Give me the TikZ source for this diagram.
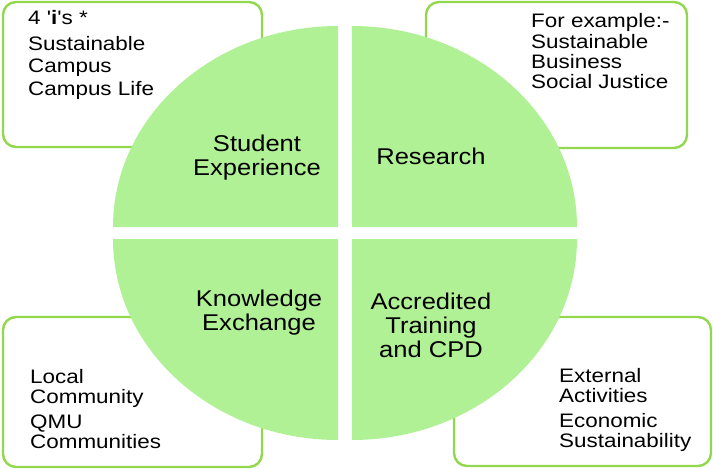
\documentclass[tikz,border=0pt]{standalone}
\usepackage{fontspec}
\setmainfont{Liberation Sans}
\newfontfamily\outerfont[FakeStretch=1.15]{Liberation Sans}
\newfontfamily\innerfont[FakeStretch=1.12]{Liberation Sans}
\definecolor{quadgreen}{RGB}{177,241,150}
\definecolor{boxgreen}{RGB}{146,216,78}
\tikzset{
  infobox/.style={draw=boxgreen, line width=2.4pt, fill=white, rounded corners=13pt},
  quad/.style={fill=quadgreen, draw=none},
  outertext/.style={anchor=base west, inner sep=0pt, font=\outerfont\fontsize{19.5}{22}\selectfont},
  innertext/.style={anchor=base, inner sep=0pt, font=\innerfont\fontsize{22.8}{24}\selectfont},
}
\begin{document}
\begin{tikzpicture}[x=1pt,y=-1pt]
\useasboundingbox (0,0) rectangle (713,469);
% boxes
\draw[infobox] (3,2) rectangle (262,147);
\draw[infobox] (426,2) rectangle (687,148);
\draw[infobox] (3,317) rectangle (262,467);
\draw[infobox] (454,317) rectangle (711,466);
% quadrants
\fill[quad] (338,227) -- (113,227) arc[start angle=180, end angle=270, x radius=225, y radius=201] -- cycle;
\fill[quad] (352,227) -- (352,26) arc[start angle=270, end angle=360, x radius=225, y radius=201] -- cycle;
\fill[quad] (338,239) -- (338,440) arc[start angle=90, end angle=180, x radius=225, y radius=201] -- cycle;
\fill[quad] (352,239) -- (577,239) arc[start angle=0, end angle=90, x radius=225, y radius=201] -- cycle;
% inner labels
\node[innertext] (se1) at (257,151) {Student};
\node[innertext] (se2) at (257,175) {Experience};
\node[innertext] (rs) at (431,164) {Research};
\node[innertext] (ke1) at (259,306) {Knowledge};
\node[innertext] (ke2) at (259,330) {Exchange};
\node[innertext] (at1) at (431,309) {Accredited};
\node[innertext] (at2) at (431,333) {Training};
\node[innertext] (at3) at (431,357) {and CPD};
% top-left box text
\node[outertext] (tl1) at (28,24) {4 '\textbf{i}'s *};
\node[outertext] (tl2) at (28,50) {Sustainable};
\node[outertext] (tl3) at (28,72) {Campus};
\node[outertext] (tl4) at (28,95) {Campus Life};
% top-right box text
\node[outertext] (tr1) at (531,27) {For example:-};
\node[outertext] (tr2) at (531,48) {Sustainable};
\node[outertext] (tr3) at (531,68) {Business};
\node[outertext] (tr4) at (531,88) {Social Justice};
% bottom-left box text
\node[outertext] (bl1) at (30,383) {Local};
\node[outertext] (bl2) at (30,403) {Community};
\node[outertext] (bl3) at (30,428) {QMU};
\node[outertext] (bl4) at (30,448) {Communities};
% bottom-right box text
\node[outertext] (br1) at (559,382) {External};
\node[outertext] (br2) at (559,402) {Activities};
\node[outertext] (br3) at (559,427) {Economic};
\node[outertext] (br4) at (559,447) {Sustainability};
\end{tikzpicture}
\end{document}
